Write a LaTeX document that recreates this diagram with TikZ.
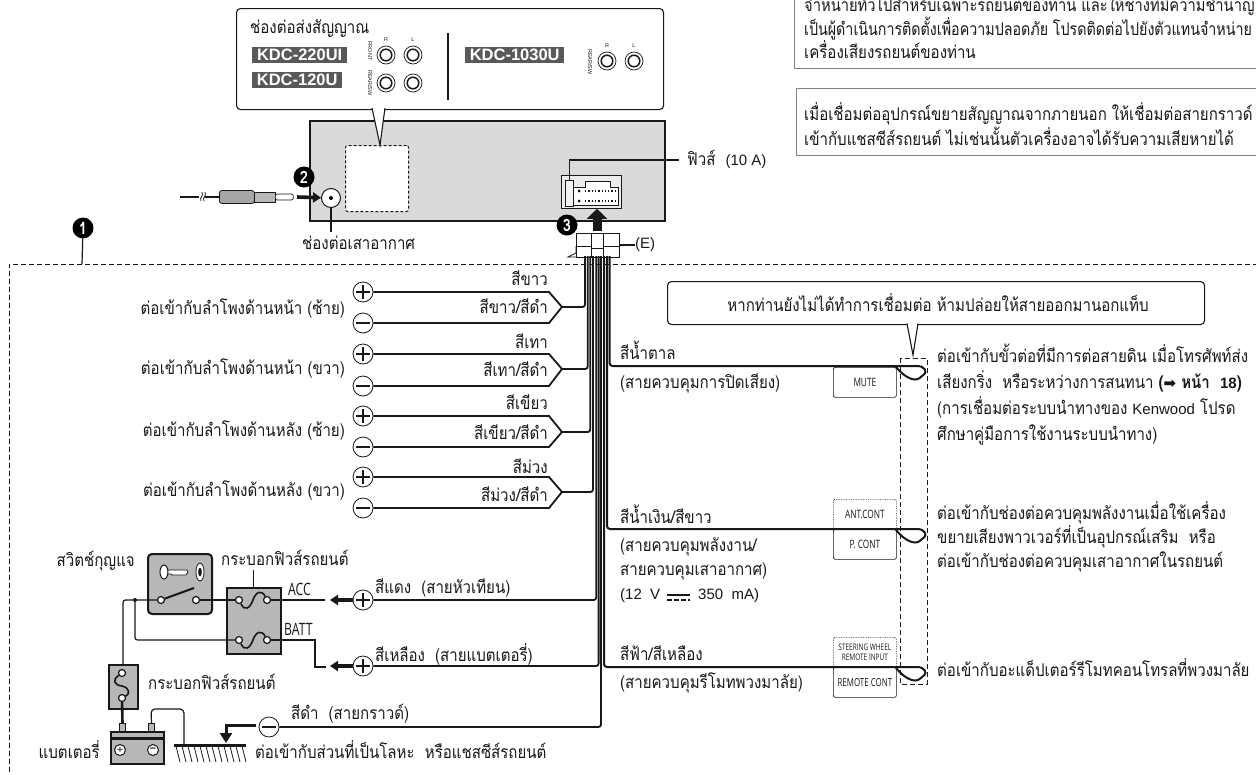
\documentclass[tikz,border=0pt]{standalone}
\usepackage{fontspec}
\usepackage{xcolor}
\usepackage{tikz}
\usetikzlibrary{arrows.meta}
\setmainfont[Script=Thai,FakeStretch=0.86]{Loma}
\newfontfamily\narrowfont[Script=Thai,FakeStretch=0.815]{Loma}
\newfontfamily\midfont[Script=Thai,FakeStretch=0.84]{Loma}
\newfontfamily\modelfont{Liberation Sans}
\newfontfamily\pinfont[FakeStretch=0.72]{Open Sans}
\newfontfamily\symfont{DejaVu Sans}
\newcommand{\lat}[1]{{\modelfont\fontsize{15}{15}\selectfont #1}}
\definecolor{unitgray}{HTML}{D9DADB}
\definecolor{switchgray}{HTML}{B6B7B9}
\definecolor{inkgray}{HTML}{58595B}
\definecolor{notegray}{HTML}{808285}
\definecolor{ink}{HTML}{1A1718}
\tikzset{
    every node/.style={font=\fontsize{17.5}{20}\selectfont, text=ink, inner sep=0pt},
    txt/.style={anchor=west, text height=11pt, text depth=4pt, yshift=-3pt},
    txtr/.style={anchor=east, text height=11pt, text depth=4pt, yshift=-3pt},
    para/.style={anchor=west, align=left, font=\fontsize{17.5}{#1}\selectfont},
    wire/.style={draw=ink, line width=1.8pt, rounded corners=2.5pt},
    fatwire/.style={draw=ink, line width=2.6pt},
    badge/.style={circle, fill=black, minimum size=21pt, text=white, font=\fontsize{17}{17}\bfseries\selectfont},
    bubble/.style={draw=ink, fill=white, line width=1.1pt, rounded corners=4pt, anchor=north west},
    model/.style={fill=inkgray, text=white, anchor=west, font=\modelfont\fontsize{16.5}{17}\bfseries\selectfont},
    tiny/.style={font=\modelfont\fontsize{5.5}{6}\selectfont},
    rca/.style={circle, draw=ink, line width=0.7pt, fill=white, minimum size=18pt,
        path picture={
            \draw[line width=1.5pt] (path picture bounding box.center) circle (5.8pt);
            \fill (path picture bounding box.center) circle (2.8pt);
        }},
    plusterm/.style={circle, draw=ink, line width=0.8pt, fill=white, minimum size=20pt,
        path picture={
            \draw[line width=1.1pt] ([xshift=-7pt]path picture bounding box.center) -- ([xshift=7pt]path picture bounding box.center);
            \draw[line width=1.1pt] ([yshift=-7pt]path picture bounding box.center) -- ([yshift=7pt]path picture bounding box.center);
        }},
    minusterm/.style={circle, draw=ink, line width=0.8pt, fill=white, minimum size=20pt,
        path picture={
            \draw[line width=1.6pt] ([xshift=-7pt]path picture bounding box.center) -- ([xshift=7pt]path picture bounding box.center);
        }},
    contact/.style={circle, draw=ink, line width=1.2pt, fill=white, minimum size=7pt},
    pinbox/.style={draw=ink, line width=0.7pt, fill=white, rounded corners=2pt, minimum width=63pt, minimum height=30pt,
        font=\pinfont\fontsize{11.5}{12}\selectfont},
    pinopt/.style={pinbox, densely dotted},
    arrowhd/.style={-{Triangle[length=8pt, width=10pt]}, line width=3.6pt, draw=ink},
    notebox/.style={draw=notegray, line width=1.3pt, anchor=north west},
    zone/.style={draw=ink, line width=0.8pt, dash pattern=on 5pt off 3pt}
}
\begin{document}
\begin{tikzpicture}[x=1pt,y=-1pt]
  \useasboundingbox[fill=white] (0,0) rectangle (1256,774);

  % Notes top right
  \node[notebox, minimum width=480pt, minimum height=98pt] (note1) at (794,-30) {};
  \node[para=22] (note1txt) at (804,26.5) {{\midfont จำหน่ายทั่วไปสำหรับเฉพาะรถยนต์ของท่าน และให้ช่างที่มีความชำนาญ}\\{\narrowfont เป็นผู้ดำเนินการติดตั้งเพื่อความปลอดภัย โปรดติดต่อไปยังตัวแทนจำหน่าย}\\เครื่องเสียงรถยนต์ของท่าน};
  \node[notebox, minimum width=480pt, minimum height=67pt] (note2) at (796,88) {};
  \node[para=22] (note2txt) at (804,124) {เมื่อเชื่อมต่ออุปกรณ์ขยายสัญญาณจากภายนอก ให้เชื่อมต่อสายกราวด์\\เข้ากับแชสซีส์รถยนต์ ไม่เช่นนั้นตัวเครื่องอาจได้รับความเสียหายได้};

  % Head unit
  \node[draw=ink, fill=unitgray, line width=2pt, minimum width=355pt, minimum height=100pt, anchor=north west] (unit) at (309,120) {};
  \node[draw=ink, fill=white, line width=1pt, densely dashed, rounded corners=2pt, minimum width=63pt, minimum height=66pt, anchor=north west] (prearea) at (345,145) {};

  % Signal outputs bubble
  \node[bubble, minimum width=427pt, minimum height=101pt] (sigbubble) at (236,8) {};
  \draw[fill=white, line width=1.1pt, draw=ink] (372,108) -- (prearea.north -| 380,0) -- (385,108);
  \node[txt] (sigtitle) at (250,27) {ช่องต่อส่งสัญญาณ};
  \node[model, minimum width=95pt, minimum height=16pt, text depth=0pt] (m220) at (252,55) {KDC-220UI};
  \node[model, minimum width=90pt, minimum height=16pt, text depth=0pt] (m120) at (252,80) {KDC-120U};
  \node[model, minimum width=99pt, minimum height=16pt, text depth=0pt] (m1030) at (465,55) {KDC-1030U};
  \node[rca] (fr) at (386,55) {};
  \node[rca] (fl) at (413,55) {};
  \node[rca] (rr) at (386,83) {};
  \node[rca] (rl) at (413,83) {};
  \node[rca] (sr) at (607,61) {};
  \node[rca] (sl) at (634,61) {};
  \node[tiny] (lbr) at (386,40) {R};
  \node[tiny] (lbl) at (413,40) {L};
  \node[tiny] (lsr) at (607,46) {R};
  \node[tiny] (lsl) at (634,46) {L};
  \node[tiny, rotate=-90] (lfront) at (370,51) {FRONT};
  \node[tiny, rotate=-90] (lrear) at (370,83) {REAR/SW};
  \node[tiny, rotate=-90] (lsub) at (590,62) {REAR/SW};
  \draw[line width=1.5pt, draw=ink] (448,33) -- (448,100);

  % Antenna
  \node[circle, draw=ink, fill=white, line width=1pt, minimum size=19pt] (jack) at (331,198) {};
  \node[circle, fill=black, minimum size=4pt] (jackpin) at (331,198) {};
  \node[badge] (two) at (304,177) {2};
  \node[txt] (anttxt) at (302,243) {ช่องต่อเสาอากาศ};
  \coordinate (antfoot) at (331,232);
  \draw[line width=1.5pt, draw=ink] (jack) -- (antfoot);
  \node[draw=ink, fill=gray!70, line width=0.8pt, rounded corners=2.5pt, minimum width=35pt, minimum height=13pt, anchor=west] (plugbody) at (219,197) {};
  \node[draw=ink, fill=gray!55, line width=0.7pt, minimum width=21pt, minimum height=10pt, anchor=west] (plugneck) at (254,197) {};
  \node[draw=ink, fill=white, line width=0.7pt, rounded corners=2pt, minimum width=18pt, minimum height=6pt, anchor=west] (plugpin) at (275,197) {};
  \coordinate (antcable) at (180,197);
  \draw[line width=1.8pt, draw=ink] (antcable) -- (199,197);
  \draw[line width=0.8pt, draw=ink] (201,201) .. controls (199,197) and (204,197) .. (202,192);
  \draw[line width=0.8pt, draw=ink] (204,201) .. controls (202,197) and (207,197) .. (205,192);
  \draw[line width=1.8pt, draw=ink] (205,197) -- (plugbody);
  \coordinate (antarrow) at (297,197);
  \draw[arrowhd] (antarrow) -- (jack);

  % Main connector
  \node[draw=ink, fill=gray!15, line width=0.8pt, minimum width=60pt, minimum height=33pt, anchor=north west] (socket) at (561,175) {};
  \draw[fill=white, line width=0.6pt, draw=ink] (573,187) -- (585,187) -- (585,181) -- (610,181) -- (610,187) -- (618,187) -- (618,205) -- (573,205) -- cycle;
  \node[draw=ink, fill=gray!10, line width=0.7pt, minimum width=8pt, minimum height=26pt, anchor=north west] (fuse) at (565,180) {};
  \fill (579,191) circle (1.5pt) (579,201) circle (1.5pt);
  \draw[line width=1.3pt, dotted, draw=ink] (585,191) -- (615,191) (585,201) -- (615,201);
  \node[txt] (fusetxt) at (687,159) {ฟิวส์\ \ \lat{(10 A)}};
  \coordinate (fuselead) at (679,160);
  \draw[line width=1.2pt, draw=ink] (fuse.north) |- (fuselead);
  \node[badge] (three) at (567,225) {3};

  % Wiring harness
  \coordinate (w1) at (585,256);
  \coordinate (w2) at (587.7,256);
  \coordinate (w3) at (590.3,256);
  \coordinate (w4) at (593,256);
  \coordinate (w5) at (596.2,256);
  \coordinate (w6) at (598.6,256);
  \coordinate (w7) at (601,256);
  \coordinate (w8) at (604,256);
  \coordinate (w9) at (607,256);
  \coordinate (w10) at (609.5,256);

  % Zone around harness
  \coordinate (zonebl) at (9,780);
  \coordinate (zonetr) at (1262,264);
  \draw[zone] (zonebl) |- (zonetr);

  % Harness plug
  \node[draw=ink, fill=white, line width=1pt, minimum width=43pt, minimum height=24pt, anchor=north west] (plugE) at (576,233) {};
  \draw[line width=0.8pt, draw=ink] (591,233) -- (591,257) (603,233) -- (603,257) (576,246) -- (591,246) (591,248) -- (603,248) (603,246) -- (619,246);
  \draw[line width=0.8pt, draw=ink] (576,246) -- (576,253) -- (568,257) -- (576,257);
  \node[anchor=west, font=\modelfont\fontsize{15}{15}\selectfont] (etxt) at (635,245) {(E)};
  \draw[line width=1.2pt, draw=ink] (plugE.east |- etxt) -- (etxt);
  \coordinate (plugarrow) at (597,231);
  \draw[-{Triangle[length=10pt, width=20pt]}, line width=9pt, draw=ink] (plugarrow) -- (socket.south -| plugarrow);

  \node[badge] (one) at (83,228) {1};
  \coordinate (onefoot) at (82,264);
  \draw[line width=1.2pt, draw=ink] (one) -- (onefoot);

  % Front left speaker
  \node[plusterm] (fp1) at (363,292) {};
  \node[minusterm] (fm1) at (363,323) {};
  \node[txtr] (ca1) at (548,279) {สีขาว};
  \node[txtr] (cb1) at (548,307) {สีขาว/สีดำ};
  \node[txtr] (sp1) at (345,308) {ต่อเข้ากับลำโพงด้านหน้า (ซ้าย)};
  \coordinate (tip1) at (562,307);
  \draw[wire] (w1) -- (585,307) -- (tip1);
  \draw[wire, rounded corners=0pt] (fp1) -- (549,292) -- (tip1) -- (549,323) -- (fm1);

  % Front right speaker
  \node[plusterm] (fp2) at (363,354) {};
  \node[minusterm] (fm2) at (363,386) {};
  \node[txtr] (ca2) at (548,342) {สีเทา};
  \node[txtr] (cb2) at (548,370) {สีเทา/สีดำ};
  \node[txtr] (sp2) at (345,368) {ต่อเข้ากับลำโพงด้านหน้า (ขวา)};
  \coordinate (tip2) at (562,369);
  \draw[wire] (w2) -- (587.7,369) -- (tip2);
  \draw[wire, rounded corners=0pt] (fp2) -- (549,354) -- (tip2) -- (549,386) -- (fm2);

  % Rear left speaker
  \node[plusterm] (fp3) at (363,416) {};
  \node[minusterm] (fm3) at (363,447) {};
  \node[txtr] (ca3) at (548,403) {สีเขียว};
  \node[txtr] (cb3) at (548,433) {สีเขียว/สีดำ};
  \node[txtr] (sp3) at (345,430) {ต่อเข้ากับลำโพงด้านหลัง (ซ้าย)};
  \coordinate (tip3) at (562,432);
  \draw[wire] (w3) -- (590.3,432) -- (tip3);
  \draw[wire, rounded corners=0pt] (fp3) -- (549,416) -- (tip3) -- (549,447) -- (fm3);

  % Rear right speaker
  \node[plusterm] (fp4) at (363,477) {};
  \node[minusterm] (fm4) at (363,508) {};
  \node[txtr] (ca4) at (548,467) {สีม่วง};
  \node[txtr] (cb4) at (548,495) {สีม่วง/สีดำ};
  \node[txtr] (sp4) at (345,490) {ต่อเข้ากับลำโพงด้านหลัง (ขวา)};
  \coordinate (tip4) at (562,492);
  \draw[wire] (w4) -- (593,492) -- (tip4);
  \draw[wire, rounded corners=0pt] (fp4) -- (549,477) -- (tip4) -- (549,508) -- (fm4);

  % Ignition, battery and ground wires
  \node[plusterm] (acc) at (363,600) {};
  \node[plusterm] (batt) at (363,666) {};
  \node[minusterm] (gnd) at (269,727) {};
  \draw[wire] (w5) -- (596.2,600) -- (acc);
  \draw[wire] (w6) -- (598.6,666) -- (batt);
  \draw[wire] (w7) -- (601,727) -- (gnd);
  \node[txt] (redtxt) at (375,587) {สีแดง\ \ (สายหัวเทียน)};
  \node[txt] (yeltxt) at (375,655) {สีเหลือง\ \ (สายแบตเตอรี่)};
  \node[txt] (blktxt) at (291,713) {สีดำ\ \ (สายกราวด์)};

  % Key switch
  \node[draw=ink, fill=switchgray, line width=2pt, rounded corners=4pt, minimum width=64pt, minimum height=60pt, anchor=north west] (keysw) at (147,553) {};
  \node[txtr] (keytxt) at (135,560) {สวิตช์กุญแจ};
  \draw[fill=white, line width=1pt, draw=ink] (164,572) ellipse (4pt and 7pt);
  \draw[fill=white, line width=0.8pt, draw=ink] (168,570) -- (187,570) -- (188,572) -- (186,575) -- (172,575) -- (171,574) -- (168,574) -- cycle;
  \draw[fill=white, line width=0.8pt, draw=ink] (200,572) ellipse (4pt and 9pt);
  \fill[ink] (200,572) ellipse (1.8pt and 4.5pt);
  \node[contact] (swa) at (161,600) {};
  \node[contact] (swb) at (196,600) {};
  \coordinate (swtip) at (194,588);
  \draw[line width=2pt, draw=ink] (swa) -- (swtip);

  % Fuse block
  \node[draw=ink, fill=switchgray, line width=1.8pt, minimum width=54pt, minimum height=66pt, anchor=north west] (fblock) at (226,587) {};
  \node[txt] (ftxt) at (221,559) {กระบอกฟิวส์รถยนต์};
  \coordinate (fleader) at (253,570);
  \draw[line width=0.8pt, draw=ink] (fleader) -- (fblock.north -| fleader);
  \node[contact] (fa1) at (239,600) {};
  \node[contact] (fa2) at (267,600) {};
  \node[contact] (fb1) at (239,640) {};
  \node[contact] (fb2) at (267,640) {};
  \draw[line width=1.6pt, draw=ink] (fa1) .. controls (245,612) and (250,608) .. (253,600) .. controls (256,591) and (262,590) .. (fa2);
  \draw[line width=1.6pt, draw=ink] (fb1) .. controls (245,652) and (250,648) .. (253,640) .. controls (256,631) and (262,630) .. (fb2);
  \node[anchor=west, font=\pinfont\fontsize{17}{18}\selectfont] (acctxt) at (288,589) {ACC};
  \node[anchor=west, font=\pinfont\fontsize{17}{18}\selectfont] (batttxt) at (284,629) {BATT};
  \coordinate (accend) at (325,600);
  \coordinate (battend) at (326,667);
  \draw[fatwire] (swb) -- (fa1);
  \draw[fatwire] (fa2) -- (accend);
  \draw[wire, rounded corners=0pt, line width=1.3pt] (fb2) -- (315,640) -- (315,667) -- (battend);
  \draw[arrowhd] (acc) -- (330,600);
  \draw[arrowhd] (batt) -- (330,666);

  % In-line fuse and battery
  \node[draw=ink, fill=switchgray, line width=1.6pt, minimum width=29pt, minimum height=44pt, anchor=north west] (bfuse) at (108,664) {};
  \node[txt] (bftxt) at (148,683) {กระบอกฟิวส์รถยนต์};
  \node[contact] (bfa) at (122,673) {};
  \node[contact] (bfb) at (122,698) {};
  \draw[line width=1.6pt, draw=ink] (bfa) .. controls (112,680) and (114,685) .. (122,686) .. controls (130,688) and (130,694) .. (bfb);
  \node[draw=ink, fill=switchgray, line width=1.6pt, minimum width=53pt, minimum height=32pt, anchor=north west] (bat) at (110,731) {};
  \node[draw=ink, fill=switchgray, line width=1pt, minimum width=6pt, minimum height=8pt, anchor=north west] (batp) at (119,723) {};
  \node[draw=ink, fill=switchgray, line width=1pt, minimum width=6pt, minimum height=8pt, anchor=north west] (batm) at (148,723) {};
  \draw[line width=3pt, draw=ink] (110,738) -- (163,738);
  \node[circle, draw=ink, fill=white, line width=1pt, minimum size=11pt, font=\modelfont\fontsize{11}{11}\selectfont] (batplus) at (120,750) {+};
  \node[circle, draw=ink, fill=white, line width=1pt, minimum size=11pt, font=\modelfont\bfseries\fontsize{11}{11}\selectfont] (batminus) at (153,750) {–};
  \node[txtr] (battxt) at (100,752) {แบตเตอรี่};
  \draw[line width=1.2pt, draw=ink, rounded corners=2.5pt] (swa) -- (123,600) -- (bfuse.north -| 123,0);
  \fill[ink] (135,600) circle (2pt);
  \draw[wire, line width=1.2pt] (135,600) -- (135,640) -- (fb1);
  \draw[fatwire] (bfb) -- (batp.north);

  % Ground
  \coordinate (gl) at (174,745);
  \coordinate (gr) at (246,745);
  \draw[line width=3pt, draw=ink] (gl) -- (gr);
  \draw[line width=0.8pt, draw=ink] (176,746) -- (180,762) (182,746) -- (186,762) (188,746) -- (192,762) (194,746) -- (198,762) (200,746) -- (204,762) (206,746) -- (210,762) (212,746) -- (216,762) (218,746) -- (222,762) (224,746) -- (228,762) (230,746) -- (234,762) (236,746) -- (240,762) (242,746) -- (246,762);
  \draw[line width=1.2pt, draw=ink, rounded corners=4pt] (batm.north) -- (151,709) -- (184,709) -- (184,745);
  \draw[line width=3pt, draw=ink, -{Triangle[length=10pt, width=12pt]}] (256,725) -- (226,725) -- (226,743);
  \node[txt] (gtxt) at (255,752) {ต่อเข้ากับส่วนที่เป็นโลหะ\ \ หรือแชสซีส์รถยนต์};

  % Accessory wires
  \node[pinbox, anchor=north west] (mute) at (833,367) {MUTE};
  \node[pinopt, anchor=north west] (antc) at (833,499) {ANT.CONT};
  \node[pinbox, anchor=north west] (pcont) at (833,529) {P. CONT};
  \node[pinopt, anchor=north west, align=center, font=\pinfont\fontsize{9}{9.5}\selectfont] (steer) at (833,637) {STEERING WHEEL\\REMOTE INPUT};
  \node[pinbox, anchor=north west, font=\pinfont\fontsize{11}{12}\selectfont] (rmt) at (833,667) {REMOTE CONT};

  % Do not expose zone
  \coordinate (dashnw) at (900,358);
  \coordinate (dashse) at (927,684);
  \draw[zone] (dashnw) rectangle (dashse);

  \draw[line width=2pt, draw=ink, rounded corners=3pt] (w10) -- (609.5,366) -- (914,366) .. controls (925,366) and (927,372) .. (922,376) .. controls (915,382) and (905,378) .. (896,367);
  \draw[line width=2pt, draw=ink, rounded corners=3pt] (w9) -- (607,529) -- (914,529) .. controls (925,529) and (927,535) .. (922,539) .. controls (915,545) and (905,541) .. (896,530);
  \draw[line width=2pt, draw=ink, rounded corners=3pt] (w8) -- (604,667) -- (914,667) .. controls (925,667) and (927,673) .. (922,677) .. controls (915,683) and (905,679) .. (896,668);

  \node[txt] (brown) at (620,353) {สีน้ำตาล};
  \node[txt] (brown2) at (620,382) {(สายควบคุมการปิดเสียง)};
  \node[txt] (blue) at (620,517) {สีน้ำเงิน/สีขาว};
  \node[para=24] (blue2) at (620,559) {(สายควบคุมพลังงาน/\\สายควบคุมเสาอากาศ)};
  \node[txt] (volt) at (620,593) {\lat{(12\ \ V}};
  \node[txt] (amp) at (698,593) {\lat{350\ \ mA)}};
  \draw[line width=2pt, draw=ink] (volt.east -| 667,0) ++(0,-1.5) -- ++(23,0);
  \draw[line width=2pt, draw=ink, dash pattern=on 5pt off 2pt] (volt.east -| 667,0) ++(0,3.5) -- ++(23,0);
  \node[txt] (sky) at (620,654) {สีฟ้า/สีเหลือง};
  \node[txt] (sky2) at (620,682) {(สายควบคุมรีโมทพวงมาลัย)};

  % Warning bubble
  \node[bubble, minimum width=537pt, minimum height=43pt] (warn) at (667,281) {};
  \draw[fill=white, line width=1.1pt, draw=ink] (907,323.5) -- (913,355) -- (918,323.5);
  \node (warntxt) at (938,303) {หากท่านยังไม่ได้ทำการเชื่อมต่อ ห้ามปล่อยให้สายออกมานอกแท็บ};

  % Right hand text
  \node[para=25.7] (t1) at (937,394.5) {ต่อเข้ากับขั้วต่อที่มีการต่อสายดิน เมื่อโทรศัพท์ส่ง\\เสียงกริ่ง\ \ หรือระหว่างการสนทนา {\bfseries({\symfont\fontsize{15}{15}\selectfont ➡}\ หน้า\ \ \lat{18})}\\(การเชื่อมต่อระบบนำทางของ \lat{Kenwood} โปรด\\ศึกษาคู่มือการใช้งานระบบนำทาง)};
  \node[para=24] (t2) at (937,537) {ต่อเข้ากับช่องต่อควบคุมพลังงานเมื่อใช้เครื่อง\\ขยายเสียงพาวเวอร์ที่เป็นอุปกรณ์เสริม\ \ หรือ\\ต่อเข้ากับช่องต่อควบคุมเสาอากาศในรถยนต์};
  \node[txt] (t3) at (937,670) {ต่อเข้ากับอะแด็ปเตอร์รีโมทคอนโทรลที่พวงมาลัย};
\end{tikzpicture}
\end{document}
